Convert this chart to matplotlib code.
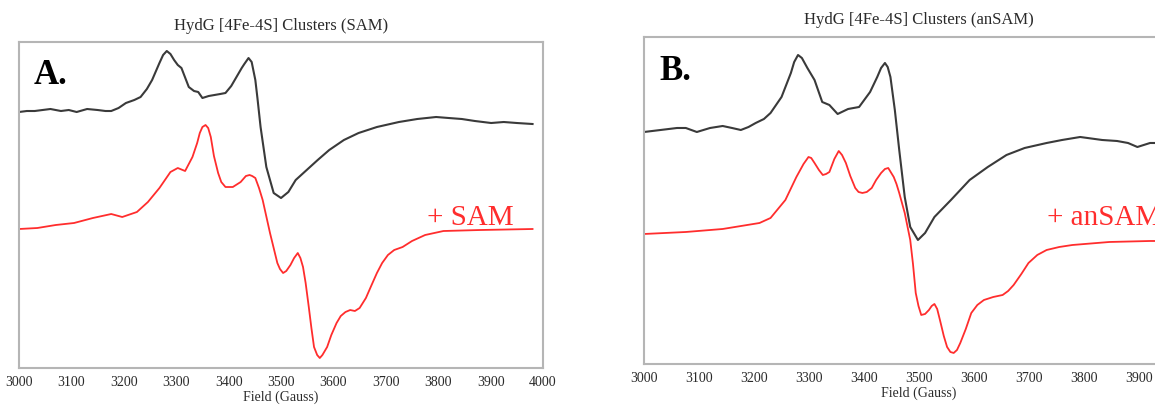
import matplotlib
matplotlib.use("Agg")
import matplotlib.pyplot as plt

# ---- data (field in Gauss, intensity in arbitrary units) ----
field_a_dark = [3000, 3015, 3030, 3045, 3060, 3080, 3095, 3110, 3130, 3150, 3165, 3176,
                3190, 3204, 3220, 3232, 3244, 3254, 3268, 3275, 3282, 3289, 3296, 3303,
                3310, 3324, 3334, 3342, 3350, 3362, 3373, 3384, 3394, 3405, 3415, 3425,
                3430, 3438, 3444, 3451, 3455, 3461, 3472, 3486, 3500, 3514, 3528, 3549,
                3570, 3592, 3620, 3648, 3683, 3725, 3760, 3796, 3820, 3845, 3870, 3901,
                3925, 3950, 3980]
signal_a_dark = [256, 257, 257, 258, 259, 257, 258, 256, 259, 258, 257, 257,
                 260, 265, 268, 271, 279, 288, 305, 313, 317, 314, 308, 303,
                 300, 281, 277, 276, 270, 272, 273, 274, 275, 282, 291, 300,
                 304, 310, 306, 288, 270, 241, 201, 175, 170, 176, 188, 198,
                 208, 218, 228, 235, 241, 246, 249, 251, 250, 249, 247, 245,
                 246, 245, 244]

field_a_sam = [3000, 3035, 3070, 3105, 3141, 3176, 3197, 3225, 3246, 3268, 3289, 3303,
               3317, 3331, 3340, 3345, 3350, 3356, 3361, 3366, 3372, 3380, 3386, 3394,
               3408, 3423, 3433, 3440, 3445, 3451, 3458, 3465, 3479, 3493, 3498, 3504,
               3510, 3518, 3525, 3532, 3537, 3542, 3547, 3553, 3558, 3563, 3569, 3574,
               3579, 3588, 3596, 3606, 3614, 3623, 3632, 3641, 3650, 3662, 3672, 3683,
               3693, 3704, 3716, 3732, 3750, 3775, 3810, 3880, 3980]
signal_a_sam = [139, 140, 143, 145, 150, 154, 151, 156, 166, 180, 196, 200,
                197, 211, 225, 235, 241, 243, 240, 231, 212, 195, 186, 181,
                181, 186, 192, 193, 192, 190, 180, 168, 135, 105, 99, 95,
                97, 103, 110, 115, 110, 101, 85, 61, 40, 21, 13, 10,
                13, 21, 33, 45, 52, 56, 58, 57, 60, 70, 82, 95,
                105, 113, 118, 121, 127, 133, 137, 138, 139]

field_b_dark = [3000, 3015, 3030, 3045, 3060, 3076, 3096, 3120, 3143, 3160, 3176, 3190,
                3203, 3218, 3230, 3250, 3267, 3273, 3280, 3287, 3297, 3310, 3324, 3337,
                3352, 3371, 3391, 3411, 3424, 3431, 3438, 3443, 3448, 3456, 3464, 3474,
                3484, 3498, 3511, 3528, 3558, 3592, 3625, 3659, 3692, 3732, 3760, 3793,
                3833, 3860, 3880, 3897, 3920, 3950, 3980]
signal_b_dark = [232, 233, 234, 235, 236, 236, 232, 236, 238, 236, 234, 237,
                 241, 245, 251, 267, 291, 302, 309, 306, 296, 284, 262, 259,
                 250, 255, 257, 272, 287, 296, 301, 297, 287, 254, 214, 167,
                 137, 124, 131, 147, 164, 184, 197, 209, 216, 221, 224, 227,
                 224, 223, 221, 217, 221, 221, 220]

field_b_ansam = [3000, 3076, 3143, 3210, 3230, 3257, 3277, 3290, 3299, 3304, 3310, 3318,
                 3325, 3331, 3337, 3346, 3354, 3360, 3367, 3375, 3384, 3390, 3397, 3405,
                 3414, 3422, 3431, 3438, 3444, 3454, 3459, 3464, 3474, 3484, 3489, 3494,
                 3499, 3504, 3511, 3518, 3523, 3528, 3533, 3538, 3545, 3551, 3557, 3563,
                 3569, 3575, 3585, 3595, 3606, 3618, 3635, 3652, 3662, 3672, 3686, 3699,
                 3715, 3732, 3755, 3779, 3846, 3920, 3980]
signal_b_ansam = [130, 132, 135, 141, 146, 164, 187, 200, 207, 206, 201, 194,
                  189, 190, 192, 205, 213, 209, 201, 188, 176, 172, 171, 172,
                  176, 184, 191, 195, 196, 187, 180, 171, 151, 124, 100, 71,
                  58, 49, 50, 54, 58, 60, 55, 44, 28, 17, 12, 11,
                  14, 21, 35, 51, 59, 64, 67, 69, 73, 79, 90, 101,
                  109, 114, 117, 119, 122, 123, 123]

field_ticks = [3000, 3100, 3200, 3300, 3400, 3500, 3600, 3700, 3800, 3900, 4000]

# ---- figure ----
plt.rcParams["font.family"] = ["Liberation Serif", "DejaVu Serif"]
fig = plt.figure(figsize=(11.55, 4.07), dpi=100)

# panel B runs past the right edge of the picture, as in the reference crop
ax_a = fig.add_axes([0.01645, 0.0958, 0.4537, 0.801])
ax_b = fig.add_axes([0.5576, 0.1057, 0.4762, 0.8034])

dark = "#3a3a3a"
red = "#ff2d2d"
panels = [
    (ax_a, field_a_dark, signal_a_dark, field_a_sam, signal_a_sam,
     "HydG [4Fe-4S] Clusters (SAM)", "A.", "+ SAM", (427, 225), 326),
    (ax_b, field_b_dark, signal_b_dark, field_b_ansam, signal_b_ansam,
     "HydG [4Fe-4S] Clusters (anSAM)", "B.", "+ anSAM", (1047, 225), 327),
]

for ax, fx, sx, fy, sy, title, tag, label, lab_px, top in panels:
    ax.plot(fx, sx, color=dark, lw=1.5)
    ax.plot(fy, sy, color=red, lw=1.3)
    ax.set_xlim(3000, 4000)
    ax.set_ylim(0, top)
    ax.set_xticks(field_ticks)
    ax.set_yticks([])
    ax.tick_params(axis="x", length=0, pad=6, labelsize=10, labelcolor="#2a2a2a")
    for sp in ax.spines.values():
        sp.set_color("#b5b5b5")
        sp.set_linewidth(1.5)
    ax.set_title(title, fontsize=12, color="#2a2a2a", pad=9)
    ax.set_xlabel("Field (Gauss)", fontsize=10, color="#2a2a2a", labelpad=1)
    ax.text(0.028, 0.87, tag, transform=ax.transAxes, fontsize=25,
            fontweight="bold", color="black", va="baseline")
    # condition label, placed in figure pixels as in the reference
    fig.text(lab_px[0] / 1155, 1 - lab_px[1] / 407, label, fontsize=21,
             color=red, va="baseline", ha="left")

fig.savefig("out.png", dpi=100)
